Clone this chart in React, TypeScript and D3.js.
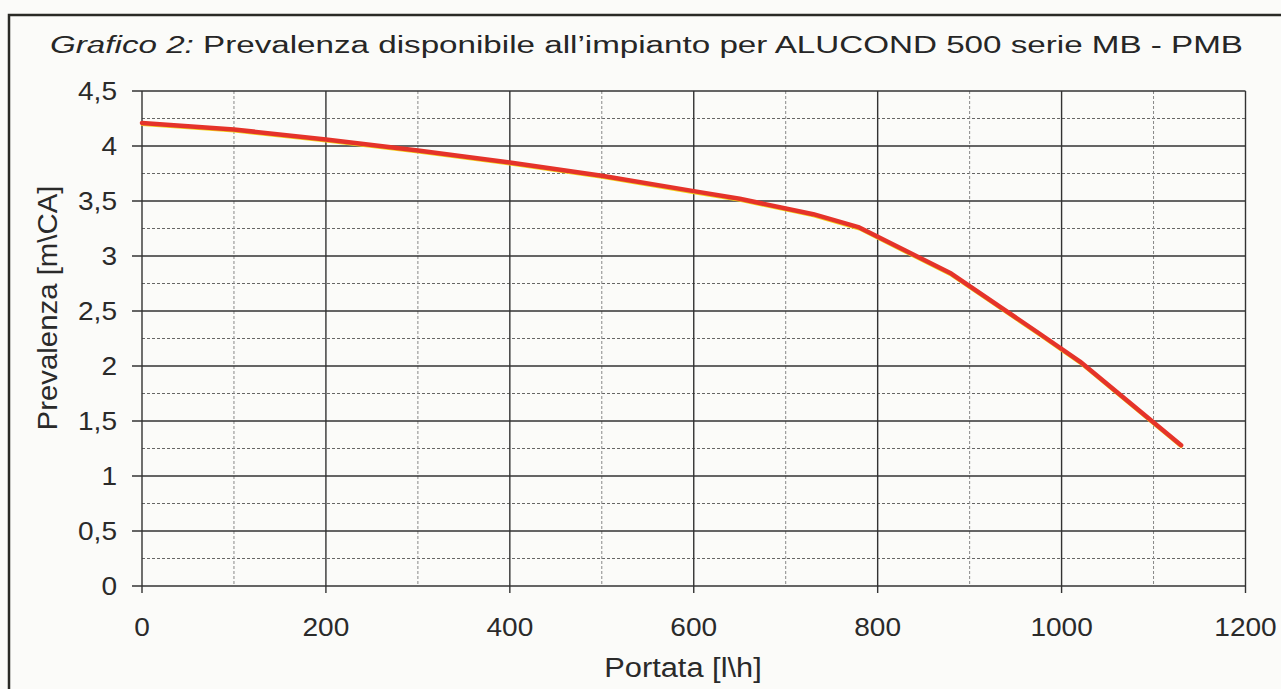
import React, { useEffect, useRef } from 'react';
import * as d3 from 'd3';

// portata [l/h] e prevalenza [m c.a.]
const portata = [0, 100, 200, 300, 400, 500, 600, 650, 730, 780, 830, 880, 975, 1020, 1130];
const prevalenza = [4.21, 4.15, 4.06, 3.96, 3.85, 3.73, 3.59, 3.52, 3.38, 3.26, 3.05, 2.84, 2.3, 2.04, 1.28];

const xMajor = [0, 200, 400, 600, 800, 1000, 1200];
const xMinor = [100, 300, 500, 700, 900, 1100];
const yMajor = [0, 0.5, 1, 1.5, 2, 2.5, 3, 3.5, 4, 4.5];
const yMinor = [0.25, 0.75, 1.25, 1.75, 2.25, 2.75, 3.25, 3.75, 4.25];

const W = 1281;
const H = 689;
const FONT = 'Liberation Sans, Arial, sans-serif';

export default function App() {
  const ref = useRef<SVGSVGElement>(null);

  useEffect(() => {
    const svg = d3.select(ref.current);
    svg.selectAll('*').remove();

    const x = d3.scaleLinear().domain([0, 1200]).range([142, 1245.5]);
    const y = d3.scaleLinear().domain([0, 4.5]).range([586, 91]);

    svg.append('rect').attr('width', W).attr('height', H).attr('fill', '#fbfbf9');

    // cornice
    svg.append('path')
      .attr('d', `M9,${H} L9,15 L${W},15`)
      .attr('fill', 'none').attr('stroke', '#2a2a26').attr('stroke-width', 2.5);

    // titolo
    const title = svg.append('text')
      .attr('x', 50).attr('y', 53)
      .attr('font-family', FONT).attr('font-size', 23.5).attr('fill', '#262626')
      .attr('textLength', 1193).attr('lengthAdjust', 'spacingAndGlyphs');
    title.append('tspan').attr('font-style', 'italic').text('Grafico 2:');
    title.append('tspan').text(' Prevalenza disponibile all\u2019impianto per ALUCOND 500 serie MB - PMB');

    const g = svg.append('g');

    // griglia minore
    g.selectAll('.ymin').data(yMinor).enter().append('line')
      .attr('x1', x(0)).attr('x2', x(1200))
      .attr('y1', d => y(d)).attr('y2', d => y(d))
      .attr('stroke', '#666').attr('stroke-width', 1).attr('stroke-dasharray', '3,2');
    g.selectAll('.xmin').data(xMinor).enter().append('line')
      .attr('x1', d => x(d)).attr('x2', d => x(d))
      .attr('y1', y(4.5)).attr('y2', y(0))
      .attr('stroke', '#888').attr('stroke-width', 1).attr('stroke-dasharray', '3,2');

    // griglia maggiore
    g.selectAll('.ymaj').data(yMajor).enter().append('line')
      .attr('x1', x(0) - 10).attr('x2', x(1200))
      .attr('y1', d => y(d)).attr('y2', d => y(d))
      .attr('stroke', '#333').attr('stroke-width', 1.4);
    g.selectAll('.xmaj').data(xMajor).enter().append('line')
      .attr('x1', d => x(d)).attr('x2', d => x(d))
      .attr('y1', y(4.5)).attr('y2', y(0) + 7)
      .attr('stroke', '#333').attr('stroke-width', 1.4);

    // etichette asse y
    g.selectAll('.ylab').data(yMajor).enter().append('text')
      .attr('transform', d => `translate(117,${y(d) + 8.5}) scale(1.1,1)`)
      .attr('text-anchor', 'end')
      .attr('font-family', FONT).attr('font-size', 25.5).attr('fill', '#2a2a2a')
      .text(d => String(d).replace('.', ','));

    // etichette asse x
    g.selectAll('.xlab').data(xMajor).enter().append('text')
      .attr('transform', d => `translate(${x(d)},636) scale(1.1,1)`)
      .attr('text-anchor', 'middle')
      .attr('font-family', FONT).attr('font-size', 25.5).attr('fill', '#2a2a2a')
      .text(d => String(d));

    // titoli assi
    svg.append('text')
      .attr('transform', 'translate(683,677) scale(1.1,1)')
      .attr('text-anchor', 'middle')
      .attr('font-family', FONT).attr('font-size', 28).attr('fill', '#2a2a2a')
      .text('Portata [l\\h]');
    svg.append('text')
      .attr('transform', 'translate(57,308) rotate(-90) scale(1.05,1)')
      .attr('text-anchor', 'middle')
      .attr('font-family', FONT).attr('font-size', 28).attr('fill', '#2a2a2a')
      .text('Prevalenza [m\\CA]');

    // curva
    const pts: [number, number][] = portata.map((p, i) => [p, prevalenza[i]]);
    const line = d3.line<[number, number]>().x(d => x(d[0])).y(d => y(d[1]));
    g.append('path').datum(pts).attr('d', line)
      .attr('transform', 'translate(0,1.8)')
      .attr('fill', 'none').attr('stroke', '#f2d21a').attr('stroke-width', 2.5)
      .attr('stroke-linejoin', 'round').attr('stroke-linecap', 'round');
    g.append('path').datum(pts).attr('d', line)
      .attr('fill', 'none').attr('stroke', '#e5332a').attr('stroke-width', 4.5)
      .attr('stroke-linejoin', 'round').attr('stroke-linecap', 'round');
  }, []);

  return (
    <svg ref={ref} width={W} height={H} style={{ position: 'absolute', left: 0, top: 0 }} />
  );
}
